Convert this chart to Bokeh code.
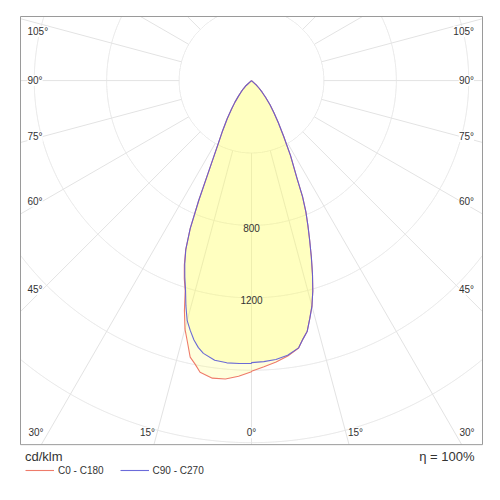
import numpy as np
from bokeh.plotting import figure
from bokeh.models import Range1d, Legend, LegendItem, Label
from bokeh.embed import file_html
from bokeh.resources import INLINE
from bokeh.core.properties import value

# ---------------- data (cd/klm) ----------------
gamma = [0, 2.5, 5, 7.5, 10, 11.25, 12.5, 13.75, 15, 16.25, 17.5, 18.75, 20,
         21.25, 22.5, 23.75, 25, 27.5, 30, 32.5, 35, 37.5, 40, 42.5, 45, 47.5, 50]
c0 = [1605, 1582, 1560, 1535, 1500, 1456, 1420, 1354, 1290, 1210, 1120, 1028, 940,
      860, 785, 700, 594, 467, 355, 275, 215, 168, 122, 87, 58, 35, 0]
c180 = [1608, 1635, 1655, 1658, 1636, 1597, 1565, 1488, 1420, 1324, 1218, 1155, 1085,
        1003, 885, 725, 575, 408, 318, 250, 192, 150, 112, 85, 62, 40, 0]
c90 = [1558, 1554, 1547, 1530, 1499, 1456, 1420, 1354, 1290, 1210, 1120, 1028, 940,
       860, 785, 700, 594, 467, 355, 275, 215, 168, 122, 87, 58, 35, 0]
c270 = [1562, 1564, 1565, 1558, 1530, 1504, 1468, 1422, 1373, 1295, 1212, 1146, 1078,
        1001, 885, 725, 575, 408, 318, 250, 192, 150, 112, 85, 62, 40, 0]

grid_circles = [400, 800, 1200, 1600, 2000, 2400]
circle_label_values = [800, 1200]
radial_angles = list(range(0, 181, 15))
side_angles = [105, 90, 75, 60, 45]
side_labels = ["105°", "90°", "75°", "60°", "45°"]
bottom_angles = [-30, -15, 0, 15, 30]
bottom_labels = ["30°", "15°", "0°", "15°", "30°"]
series_names = ["C0 - C180", "C90 - C270"]
unit_text = "cd/klm"
eta_text = "η = 100%"

# ---------------- layout ----------------
X0, X1 = -1276, 1276          # diagram box (data units)
Y0, Y1 = -2011, 354
S = (X1 - X0) / 462           # data units per pixel
FW, FH = 464, 465             # frame (box + legend area) in pixels
FONT = value("Liberation Sans")
TXT = "#333333"
GRID = "#e3e3e3"
RED = "#ee7b6a"
BLUE = "#5b5bd6"

p = figure(width=19 + FW + 9, height=15 + FH + 10,
           x_range=Range1d(X0 - S, X1 + S),
           y_range=Range1d(Y1 + S - FH * S, Y1 + S),
           x_axis_location=None, y_axis_location=None,
           toolbar_location=None, output_backend="svg",
           min_border_left=19, min_border_right=9,
           min_border_top=15, min_border_bottom=10)
p.grid.visible = False
p.outline_line_color = None
p.background_fill_color = "white"
p.border_fill_color = "white"


def inside(x, y):
    return (x >= X0) & (x <= X1) & (y >= Y0) & (y <= Y1)


# grid: circles, clipped to the box
th = np.radians(np.arange(0, 360.05, 0.1))
cxs, cys = [], []
for R in grid_circles:
    x = R * np.sin(th)
    y = -R * np.cos(th)
    m = inside(x, y)
    x = np.where(m, x, np.nan)
    y = np.where(m, y, np.nan)
    cxs.append(x.tolist()); cys.append(y.tolist())
p.multi_line(cxs, cys, line_color=GRID, line_width=1)

# grid: radial lines from the first circle out to the box edge
r_in = grid_circles[0]
sx0, sy0, sx1, sy1 = [], [], [], []
for a in radial_angles:
    for sgn in ([1] if a in (0, 180) else [1, -1]):
        ux = sgn * np.sin(np.radians(a))
        uy = -np.cos(np.radians(a))
        ts = []
        if ux > 1e-9: ts.append(X1 / ux)
        if ux < -1e-9: ts.append(X0 / ux)
        if uy > 1e-9: ts.append(Y1 / uy)
        if uy < -1e-9: ts.append(Y0 / uy)
        tmax = min(ts)
        if tmax > r_in:
            sx0.append(r_in * ux); sy0.append(r_in * uy)
            sx1.append(tmax * ux); sy1.append(tmax * uy)
p.segment(sx0, sy0, sx1, sy1, line_color=GRID, line_width=1)


def curve(left, right):
    g = np.radians(np.array(gamma, dtype=float))
    L = np.array(left, dtype=float)
    R = np.array(right, dtype=float)
    xs = np.concatenate([-(L * np.sin(g))[::-1], R * np.sin(g)])
    ys = np.concatenate([-(L * np.cos(g))[::-1], -(R * np.cos(g))])
    return xs, ys


rx, ry = curve(c180, c0)
bx, by = curve(c270, c90)

p.patch(rx, ry, fill_color="#ffff60", fill_alpha=0.22, line_color=None)
p.patch(bx, by, fill_color="#ffff60", fill_alpha=0.22, line_color=None)
red_line = p.line(rx, ry, line_color=RED, line_width=1.1)
blue_line = p.line(bx, by, line_color=BLUE, line_width=1.1, line_alpha=0.9)

# diagram box
p.quad(left=[X0], right=[X1], bottom=[Y0], top=[Y1], fill_color=None,
       line_color="#9a9a9a", line_width=1)

# circle value labels
p.text(x=[0] * len(circle_label_values), y=[-v for v in circle_label_values],
       text=[str(v) for v in circle_label_values], text_font=FONT,
       text_font_size="10px", text_color=TXT, text_align="center",
       text_baseline="top", y_offset=-1.5)

# side angle labels
xa = -X0 - 22 * S
ys_side = []
for a in side_angles:
    yv = -xa / np.tan(np.radians(a)) if a != 90 else 0.0
    ys_side.append(min(yv, Y1 - 15 * S))
common = dict(text_font=FONT, text_font_size="10px", text_color=TXT,
              text_baseline="middle", background_fill_color="white")
p.text(x=[X0 + 7 * S] * len(side_angles), y=ys_side, text=side_labels,
       text_align="left", **common)
p.text(x=[X1 - 8.5 * S] * len(side_angles), y=ys_side, text=side_labels,
       text_align="right", **common)

# bottom angle labels
ya = Y0 + 4 * S
yt = Y0 + 12 * S
for a, t in zip(bottom_angles, bottom_labels):
    xv = -ya * np.tan(np.radians(a))
    align = "right" if a < 0 else ("left" if a > 0 else "center")
    p.text(x=[xv], y=[yt], text=[t], text_align=align, **common)

# legend under the box
legend = Legend(items=[LegendItem(label=series_names[0], renderers=[red_line]),
                       LegendItem(label=series_names[1], renderers=[blue_line])],
                title=unit_text, orientation="horizontal", location=(6, 4),
                margin=0, padding=5, spacing=16, glyph_width=29, glyph_height=12,
                label_height=12, label_standoff=4, title_standoff=0,
                label_text_font="Liberation Sans", label_text_font_size="10px",
                label_text_color=TXT, title_text_font="Liberation Sans",
                title_text_font_size="13px", title_text_font_style="normal",
                title_text_color=TXT, border_line_color=None,
                background_fill_alpha=0)
p.add_layout(legend)

p.add_layout(Label(x=X1 - 8 * S, y=Y0 - 11.5 * S, text=eta_text,
                   text_font="Liberation Sans", text_font_size="13px",
                   text_color=TXT, text_align="right", text_baseline="middle"))

open("out.html", "w").write(file_html(p, INLINE))
